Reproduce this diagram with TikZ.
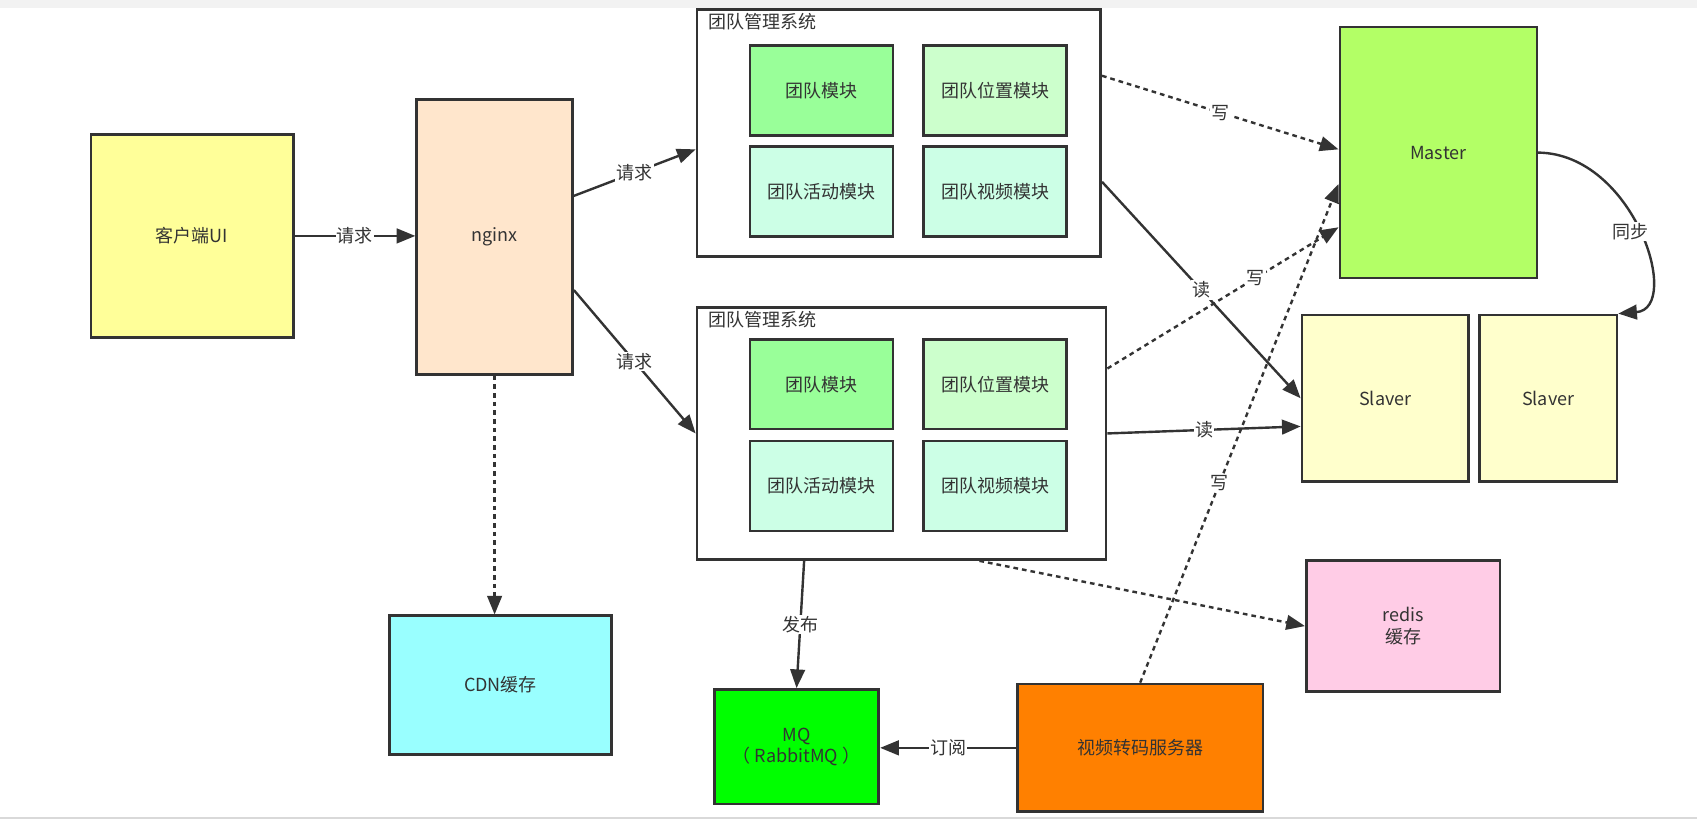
\documentclass[tikz,border=0pt]{standalone}
\usepackage{fontspec}
\setmainfont{Noto Sans CJK SC}
\usetikzlibrary{arrows.meta,calc}
\definecolor{ln}{HTML}{333333}
\definecolor{cClient}{HTML}{FFFF99}
\definecolor{cNginx}{HTML}{FFE6CC}
\definecolor{cCdn}{HTML}{99FFFF}
\definecolor{cMod}{HTML}{99FF99}
\definecolor{cPos}{HTML}{CCFFCC}
\definecolor{cAct}{HTML}{CCFFE6}
\definecolor{cMaster}{HTML}{B3FF66}
\definecolor{cSlave}{HTML}{FFFFCC}
\definecolor{cRedis}{HTML}{FFCCE6}
\definecolor{cMq}{HTML}{00FF00}
\definecolor{cVideo}{HTML}{FF8000}
\tikzset{
  box/.style={draw=ln, line width=2pt, rectangle, inner sep=0pt, align=center},
  modbox/.style={box, minimum width={132*0.8117pt}, minimum height={83*0.8117pt}},
  conn/.style={draw=ln, line width=1.8pt, -{Triangle[length=14pt,width=11pt]}},
  dconn/.style={conn, dash pattern=on 3.5pt off 3pt},
  lbl/.style={fill=white, inner sep=1pt}
}
\begin{document}
\begin{tikzpicture}[x=0.8117pt,y=-0.8117pt,
  every node/.style={font=\fontsize{13.5pt}{16pt}\selectfont, text=ln}]
\useasboundingbox (0,0) rectangle (1568,758);
\fill[gray!10] (0,0) rectangle (1568,7);
\draw[gray!30, line width=1.2pt] (0,756) -- (1568,756);

% main boxes
\node[box, minimum width={187*0.8117pt}, minimum height={188*0.8117pt}, fill=cClient] (client) at (177.5,218) {客户端UI};
\node[box, minimum width={144*0.8117pt}, minimum height={254*0.8117pt}, fill=cNginx] (nginx) at (457,219) {nginx};
\node[box, minimum width={205*0.8117pt}, minimum height={128*0.8117pt}, fill=cCdn] (cdn) at (462.5,633) {CDN缓存};

% group 1
\node[box, minimum width={373*0.8117pt}, minimum height={228*0.8117pt}, fill=white] (g1) at (830.5,123) {};
\node[anchor=west, inner sep=0pt] (g1t) at ($(g1.north west)+(12,12)$) {团队管理系统};
\node[modbox, fill=cMod] (m11) at (759,83.5) {团队模块};
\node[modbox, fill=cPos] (m12) at (919.5,83.5) {团队位置模块};
\node[modbox, fill=cAct] (m13) at (759,177) {团队活动模块};
\node[modbox, fill=cAct] (m14) at (919.5,177) {团队视频模块};

% group 2
\node[box, minimum width={378*0.8117pt}, minimum height={233*0.8117pt}, fill=white] (g2) at (833,400.5) {};
\node[anchor=west, inner sep=0pt] (g2t) at ($(g2.north west)+(12,13)$) {团队管理系统};
\node[modbox, fill=cMod] (m21) at (759,355) {团队模块};
\node[modbox, fill=cPos] (m22) at (919.5,355) {团队位置模块};
\node[modbox, fill=cAct] (m23) at (759,449) {团队活动模块};
\node[modbox, fill=cAct] (m24) at (919.5,449) {团队视频模块};

% databases etc.
\node[box, minimum width={182*0.8117pt}, minimum height={232*0.8117pt}, fill=cMaster] (master) at (1329,141) {Master};
\node[box, minimum width={154*0.8117pt}, minimum height={154*0.8117pt}, fill=cSlave] (slave1) at (1280,368) {Slaver};
\node[box, minimum width={127*0.8117pt}, minimum height={154*0.8117pt}, fill=cSlave] (slave2) at (1430.5,368) {Slaver};
\node[box, minimum width={179*0.8117pt}, minimum height={121*0.8117pt}, fill=cRedis] (redis) at (1296.5,578.5) {redis\\缓存};
\node[box, minimum width={152*0.8117pt}, minimum height={106*0.8117pt}, fill=cMq] (mq) at (736,690) {MQ\\（ RabbitMQ ）};
\node[box, minimum width={227*0.8117pt}, minimum height={118*0.8117pt}, fill=cVideo] (video) at (1053.5,691) {视频转码服务器};

% connectors
\draw[conn] (client.east) -- node[lbl] {请求} (client.east -| nginx.west);
\draw[conn] ($(nginx.east)+(0,-38)$) -- node[lbl] {请求} ($(g1.west)+(0,15)$);
\draw[conn] ($(nginx.east)+(0,49)$) -- node[lbl] {请求} (g2.west);
\draw[dconn] (nginx.south) -- (nginx.south |- cdn.north);

\draw[dconn] ($(g1.east)+(0,-53)$) -- node[lbl] {写} ($(master.west)+(0,-3)$);
\draw[conn] ($(g1.east)+(0,45)$) -- node[lbl] {读} (slave1.west);
\draw[dconn] ($(g2.east)+(0,-60)$) -- node[lbl, pos=0.64] {写} ($(master.west)+(0,69)$);
\draw[conn] (g2.east) -- node[lbl] {读} ($(slave1.west)+(0,26)$);
\draw[dconn] ($(g2.south)+(72,0)$) -- (redis.west);
\draw[dconn] (video.north) -- node[lbl, pos=0.4] {写} ($(master.west)+(0,29)$);
\draw[conn] ($(g2.south)+(-90,0)$) -- node[lbl] {发布} (mq.north);
\draw[conn] (video.west) -- node[lbl] {订阅} (video.west -| mq.east);
\draw[conn] (master.east) .. controls (1510,142) and (1555,285) .. (slave2.north east)
  node[lbl, pos=0.5, xshift=-6pt] {同步};
\end{tikzpicture}
\end{document}
